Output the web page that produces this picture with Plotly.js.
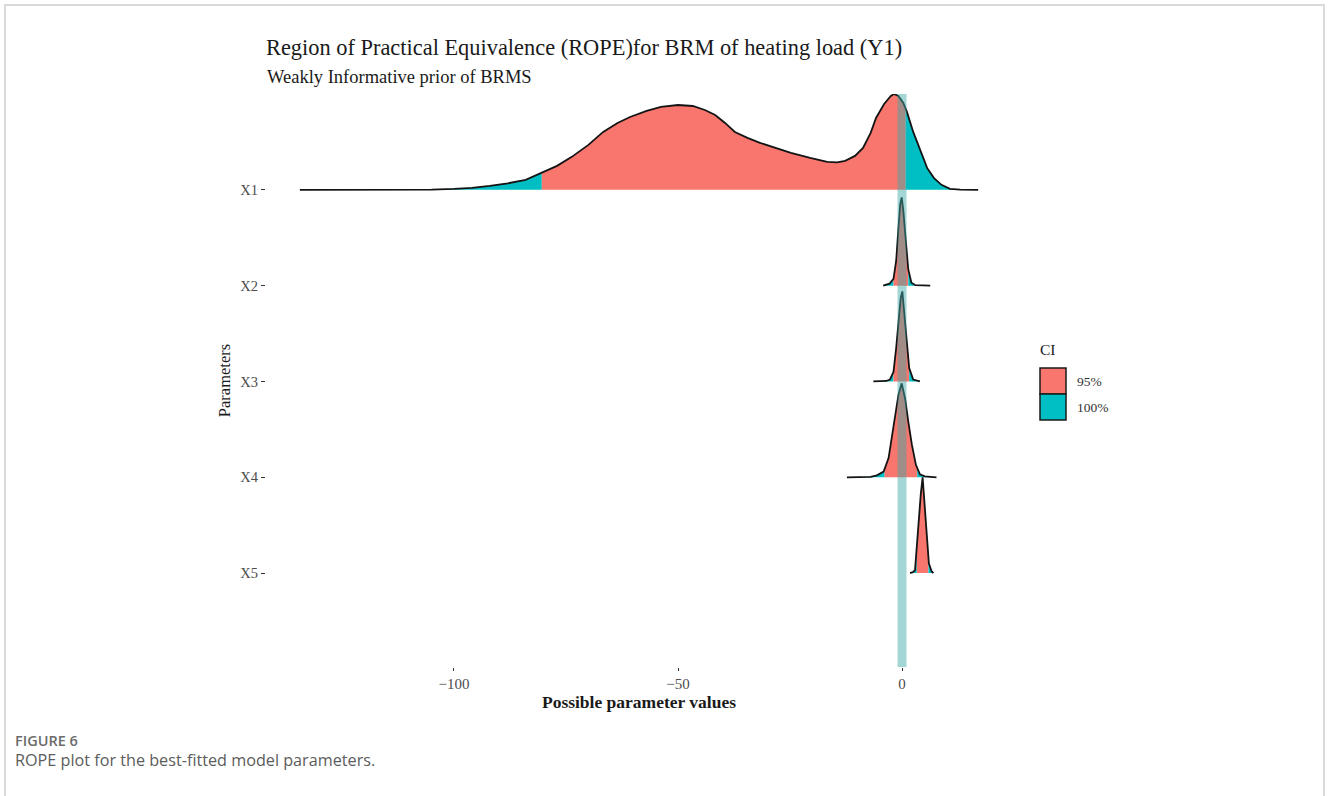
<!DOCTYPE html>
<html>
<head>
<meta charset="utf-8">
<script src="https://cdn.plot.ly/plotly-3.0.1.min.js"></script>
<style>
  html, body { margin: 0; padding: 0; background: #ffffff; }
  #wrap { position: relative; width: 1328px; height: 796px; overflow: hidden; }
  #chart { position: absolute; left: 0; top: 0; width: 1328px; height: 796px; }
  #frame { position: absolute; left: 4px; top: 4px; width: 1321px; height: 800px;
           border-top: 2px solid #d9d9d9; border-left: 2px solid #d9d9d9; border-right: 2px solid #d9d9d9;
           pointer-events: none; box-sizing: border-box; }
  .cap1 { position: absolute; left: 15px; top: 731px; font-family: "Open Sans", sans-serif;
          font-size: 14.5px; font-weight: 600; color: #6b6b6b; }
  .cap2 { position: absolute; left: 15px; top: 749px; font-family: "Open Sans", sans-serif;
          font-size: 16.2px; color: #5c5c5c; }
</style>
</head>
<body>
<div id="wrap">
  <div id="chart"></div>
  <div id="frame"></div>
  <div class="cap1">FIGURE 6</div>
  <div class="cap2">ROPE plot for the best-fitted model parameters.</div>
</div>
<script>
// ---------------- DATA ----------------
const parameters = ["X1", "X2", "X3", "X4", "X5"];
const ciLevels = ["95%", "100%"];
const ropeRange = [-1.0, 1.0];

// Posterior density curves (x = parameter value, h = relative density height)
const x1Vals = [-134.4, -120, -105, -100, -96, -92, -88, -84, -80.4, -77, -73.7, -70, -66.7, -63.5, -60.7, -57, -53.8, -50, -46.7, -44, -41.7, -39.5, -37.3, -34.5, -31.7, -28, -24.8, -20.5, -16.7, -14.5, -12.7, -10.5, -8.7, -7, -5.8, -4, -2.5, -1.8, -0.8, 0.3, 1.1, 2.5, 4.2, 5.6, 7.1, 8.8, 10.7, 13, 17];
const x1Dens = [0, 0, 0.003, 0.01, 0.021, 0.042, 0.068, 0.104, 0.177, 0.25, 0.344, 0.469, 0.604, 0.698, 0.76, 0.823, 0.865, 0.885, 0.875, 0.833, 0.781, 0.698, 0.604, 0.542, 0.49, 0.438, 0.385, 0.333, 0.292, 0.286, 0.302, 0.354, 0.438, 0.594, 0.75, 0.896, 0.979, 1.0, 0.979, 0.906, 0.813, 0.604, 0.396, 0.229, 0.125, 0.052, 0.01, 0.002, 0];

const x2Vals = [-4.2, -2.8, -1.9, -1.3, -0.8, -0.4, -0.07, 0.3, 0.9, 1.4, 2.1, 3.0, 6.3];
const x2Dens = [0, 0.02, 0.07, 0.26, 0.6, 0.85, 0.92, 0.78, 0.44, 0.17, 0.03, 0.005, 0];

const x3Vals = [-6.4, -3.5, -2.7, -1.9, -1.3, -0.8, -0.3, 0.07, 0.4, 1.0, 1.6, 2.5, 4.0];
const x3Dens = [0, 0.005, 0.02, 0.1, 0.35, 0.63, 0.87, 0.94, 0.77, 0.45, 0.14, 0.02, 0];

const x4Vals = [-12.3, -7, -5.6, -4.1, -3.0, -2.3, -1.5, -0.8, -0.07, 0.7, 1.4, 2.2, 3.1, 4.0, 5.1, 7.7];
const x4Dens = [0, 0.005, 0.02, 0.06, 0.2, 0.41, 0.65, 0.86, 0.98, 0.82, 0.58, 0.34, 0.13, 0.03, 0.01, 0];

const x5Vals = [1.8, 2.4, 2.9, 3.4, 3.9, 4.2, 4.6, 5.0, 5.5, 6.0, 6.6, 7.0];
const x5Dens = [0, 0.01, 0.03, 0.35, 0.62, 0.83, 1.0, 0.69, 0.42, 0.1, 0.02, 0];

// 95% credible interval bounds per parameter
const ci95Low  = [-80.4, -1.9, -1.9, -3.9, 3.3];
const ci95High = [0.8, 1.4, 1.6, 3.4, 5.9];

const xTickVals = [-100, -50, 0];
const xTickText = ["\u2212100", "\u221250", "0"];

// ---------------- STYLE ----------------
const colors = { "95%": "#F8766D", "100%": "#00BFC4" };
const serif = '"Liberation Serif", "Times New Roman", serif';

const curves = [
  { x: x1Vals, h: x1Dens },
  { x: x2Vals, h: x2Dens },
  { x: x3Vals, h: x3Dens },
  { x: x4Vals, h: x4Dens },
  { x: x5Vals, h: x5Dens }
];
// X1 at top
const baseOf = i => parameters.length - 1 - i;

function interp(xs, hs, xv) {
  for (let k = 0; k < xs.length - 1; k++) {
    if (xv >= xs[k] && xv <= xs[k + 1]) {
      const t = (xv - xs[k]) / (xs[k + 1] - xs[k]);
      return hs[k] + t * (hs[k + 1] - hs[k]);
    }
  }
  return 0;
}

function segment(xs, hs, a, b, base) {
  const px = [], py = [];
  px.push(a); py.push(base + interp(xs, hs, a));
  for (let k = 0; k < xs.length; k++) {
    if (xs[k] > a && xs[k] < b) { px.push(xs[k]); py.push(base + hs[k]); }
  }
  px.push(b); py.push(base + interp(xs, hs, b));
  px.push(b); py.push(base);
  px.push(a); py.push(base);
  px.push(a); py.push(base + interp(xs, hs, a));
  return { x: px, y: py };
}

const traces = [];
curves.forEach((c, i) => {
  const base = baseOf(i);
  const xmin = c.x[0], xmax = c.x[c.x.length - 1];
  const lo = ci95Low[i], hi = ci95High[i];
  const segs = [
    { a: xmin, b: lo, lvl: "100%" },
    { a: lo, b: hi, lvl: "95%" },
    { a: hi, b: xmax, lvl: "100%" }
  ];
  segs.forEach(s => {
    const p = segment(c.x, c.h, s.a, s.b, base);
    traces.push({
      type: "scatter", mode: "lines", x: p.x, y: p.y,
      fill: "toself", fillcolor: colors[s.lvl],
      line: { width: 0, color: colors[s.lvl] },
      hoverinfo: "skip", showlegend: false
    });
  });
  traces.push({
    type: "scatter", mode: "lines",
    x: c.x, y: c.h.map(v => v + base),
    line: { color: "#141414", width: 1.8 },
    name: parameters[i], showlegend: false
  });
});

// layout geometry
const W = 1328, H = 796;
const M = { l: 266, r: 316, t: 94, b: 129 };
const pw = W - M.l - M.r, ph = H - M.t - M.b;
const pxX = px => (px - M.l) / pw;
const pxY = py => (H - M.b - py) / ph;

const shapes = [
  { type: "rect", xref: "x", yref: "paper", x0: ropeRange[0], x1: ropeRange[1], y0: 0, y1: 1,
    fillcolor: "rgba(64,168,168,0.47)", line: { width: 0 }, layer: "above" }
];
const annotations = [
  { text: "Weakly Informative prior of BRMS", xref: "paper", yref: "paper",
    x: pxX(265), y: pxY(77), xanchor: "left", yanchor: "middle", showarrow: false,
    font: { family: serif, size: 18.5, color: "#1a1a1a" } },
  { text: "CI", xref: "paper", yref: "paper", x: pxX(1038), y: pxY(349),
    xanchor: "left", yanchor: "middle", showarrow: false,
    font: { family: serif, size: 15.5, color: "#1a1a1a" } }
];
ciLevels.forEach((lvl, k) => {
  const top = 368 + k * 26;
  shapes.push({ type: "rect", xref: "paper", yref: "paper",
    x0: pxX(1040), x1: pxX(1066), y0: pxY(top + 26), y1: pxY(top),
    fillcolor: colors[lvl], line: { color: "#1a1a1a", width: 1.5 } });
  annotations.push({ text: lvl, xref: "paper", yref: "paper",
    x: pxX(1075), y: pxY(top + 13), xanchor: "left", yanchor: "middle", showarrow: false,
    font: { family: serif, size: 13.5, color: "#333333" } });
});

const layout = {
  width: W, height: H,
  margin: M,
  paper_bgcolor: "rgba(0,0,0,0)", plot_bgcolor: "#ffffff",
  showlegend: false,
  title: {
    text: "Region of Practical Equivalence (ROPE)for BRM of heating load (Y1)",
    xref: "paper", x: 0, xanchor: "left",
    yref: "container", y: 1 - 47 / H, yanchor: "middle",
    font: { family: serif, size: 22.4, color: "#1a1a1a" }
  },
  xaxis: {
    range: [-141.96, 24.55],
    tickvals: xTickVals, ticktext: xTickText,
    ticks: "outside", ticklen: 3, tickwidth: 1, tickcolor: "#333",
    showgrid: false, zeroline: false, showline: false,
    tickfont: { family: serif, size: 15, color: "#4d4d4d" },
    title: { text: "Possible parameter values", standoff: 3,
      font: { family: serif, size: 17.5, color: "#1a1a1a", weight: "bold" } },
    automargin: false
  },
  yaxis: {
    range: [-0.98, 5.0],
    tickvals: parameters.map((p, i) => baseOf(i)), ticktext: parameters,
    ticks: "outside", ticklen: 4, tickwidth: 1, tickcolor: "#333",
    showgrid: false, zeroline: false, showline: false,
    tickfont: { family: serif, size: 14.5, color: "#4d4d4d" },
    title: { text: "Parameters", standoff: 5,
      font: { family: serif, size: 16.5, color: "#1a1a1a" } },
    automargin: false
  },
  shapes: shapes,
  annotations: annotations
};

Plotly.newPlot("chart", traces, layout, { displayModeBar: false, staticPlot: true });
</script>
</body>
</html>
